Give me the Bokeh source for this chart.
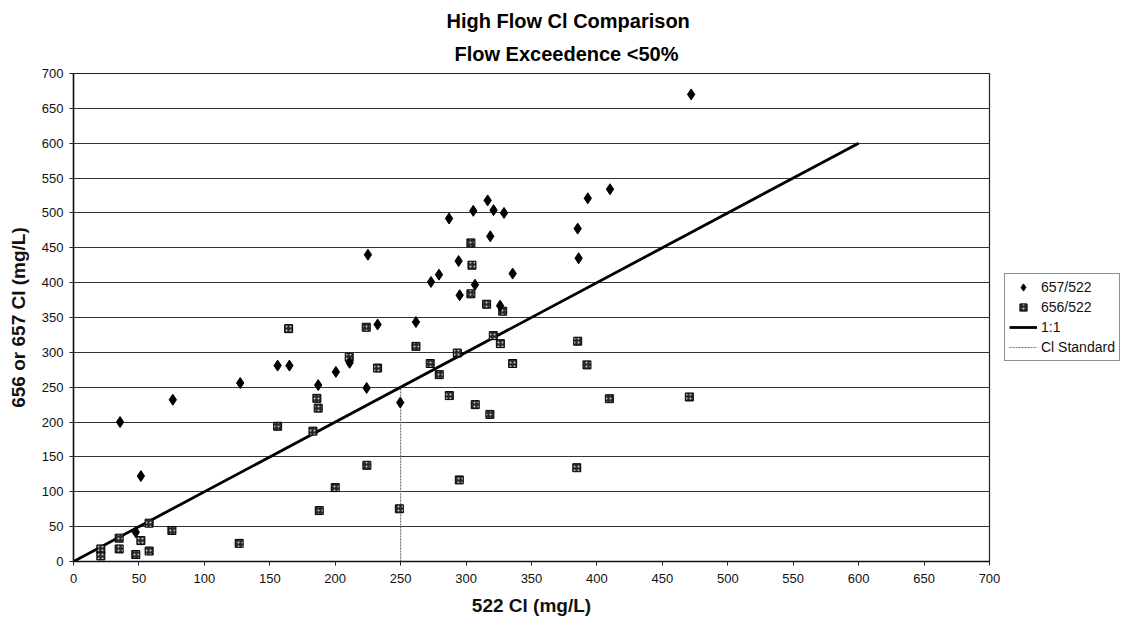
from bokeh.plotting import figure
from bokeh.models import Range1d, FixedTicker, Legend, LegendItem, Title
from bokeh.embed import file_html
from bokeh.resources import INLINE

# 657/522 (diamonds)
d657_x = [472, 35.6, 75.9, 127.4, 156, 165, 200.5, 211, 187, 225, 232.4, 224, 51.5, 47.6,
          287, 305.5, 316.5, 321, 329, 318.5, 385.3, 393, 410, 386, 294.3, 279.3, 273.2,
          335.6, 306.8, 295.1, 326, 261.7, 249.7]
d657_y = [670, 200, 232, 256, 281, 281, 272, 285, 253, 440, 340, 249, 122.5, 42,
          492, 503, 518, 504, 500, 466.5, 477.5, 521, 534, 435, 431, 411.5, 401,
          413, 397, 382, 367, 343.5, 228]

# 656/522 (squares)
d656_x = [164.4, 210.7, 186, 187, 156, 183, 223.7, 232.4, 224.2, 200, 187.8, 126.6, 75.2,
          57.8, 51.5, 34.9, 34.9, 20.9, 20.9, 47.6, 57.8, 303.7, 304.5, 303.7, 315.7, 328,
          261.7, 293.3, 320.8, 326.2, 385.3, 272.6, 279.5, 335.6, 392.4, 287.2, 307, 318.2,
          409.5, 249, 294.8, 384.6, 470.6]
d656_y = [334, 293, 234, 220, 194, 187, 336, 277.5, 138, 106, 73, 26, 44.5,
          55, 30, 33.5, 18, 18, 8, 10, 15, 457, 425, 384, 369, 359,
          308.6, 299, 324, 312.5, 316, 284, 268, 284, 282, 238, 225, 211,
          233.5, 75.6, 117, 134.5, 236]

# 1:1 line and Cl standard
one_x = [0, 600]
one_y = [0, 600]
std_x = [250, 250]
std_y = [0, 250]

ticks = list(range(0, 701, 50))

FONT = "Liberation Sans"

p = figure(width=1138, height=624, frame_width=916, frame_height=488,
           output_backend="svg", toolbar_location=None,
           x_range=Range1d(0, 700), y_range=Range1d(0, 700),
           min_border_left=73, min_border_right=149, min_border_top=73, min_border_bottom=63)

# first title line (top)
p.title.text = "High Flow Cl Comparison"
p.title.align = "left"
p.title.offset = 373
p.title.text_font = FONT
p.title.text_font_size = "20px"
p.title.text_font_style = "bold"
p.title.text_color = "#000000"
p.title.standoff = 0

t2 = Title(text="Flow Exceedence <50%", align="left", offset=381, text_font=FONT,
           text_font_size="20px", text_font_style="bold", text_color="#000000", standoff=18)
p.add_layout(t2, "above")

p.outline_line_color = "#222222"
p.outline_line_width = 1.2
p.xgrid.visible = False
p.ygrid.grid_line_color = "#333333"
p.ygrid.grid_line_width = 1.2

for ax in (p.xaxis[0], p.yaxis[0]):
    ax.ticker = FixedTicker(ticks=ticks)
    ax.minor_tick_line_color = None
    ax.major_tick_in = 0
    ax.major_tick_out = 4
    ax.major_tick_line_color = "#222222"
    ax.axis_line_color = "#111111"
    ax.axis_line_width = 1.5
    ax.major_label_text_font = FONT
    ax.major_label_text_font_size = "13px"
    ax.major_label_text_color = "#111111"
    ax.axis_label_text_font = FONT
    ax.axis_label_text_font_size = "19px"
    ax.axis_label_text_font_style = "bold"
    ax.axis_label_text_color = "#111111"

p.xaxis.axis_label = "522 Cl (mg/L)"
p.yaxis.axis_label = "656 or 657 Cl (mg/L)"
p.xaxis.major_label_standoff = 8
p.xaxis.axis_label_standoff = 9
p.yaxis.major_label_standoff = 6
p.yaxis.axis_label_standoff = 10

r_std = p.line(std_x, std_y, line_color="#777777", line_width=1.2, line_dash="2 1")
r_one = p.line(one_x, one_y, line_color="#000000", line_width=2.8)
r_sq = p.scatter(d656_x, d656_y, marker="square", size=8, fill_color="#2a2a2a",
                 line_color="#000000", hatch_pattern="dot", hatch_color="#cccccc", hatch_scale=4)
r_dm = p.scatter(d657_x, d657_y, marker="diamond", size=11,
                 fill_color="#000000", line_color="#000000")

legend = Legend(items=[
    LegendItem(label="657/522", renderers=[r_dm]),
    LegendItem(label="656/522", renderers=[r_sq]),
    LegendItem(label="1:1", renderers=[r_one]),
    LegendItem(label="Cl Standard", renderers=[r_std]),
], location="left")
legend.label_text_font = FONT
legend.label_text_font_size = "14px"
legend.label_text_color = "#111111"
legend.border_line_color = "#222222"
legend.border_line_width = 1
legend.glyph_width = 28
legend.glyph_height = 18
legend.label_height = 18
legend.label_standoff = 4
legend.spacing = 2
legend.padding = 4
legend.margin = 15
p.add_layout(legend, "right")

open("out.html", "w").write(file_html(p, INLINE))
